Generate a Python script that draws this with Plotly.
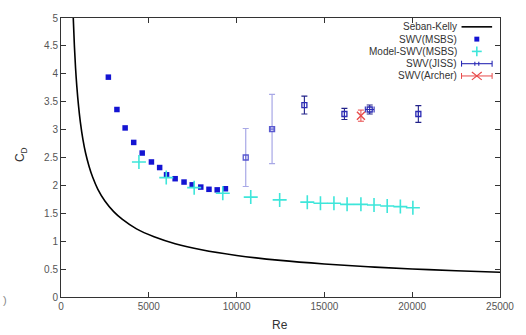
import plotly.graph_objects as go

# Seban-Kelly curve (smoothed)
sk_re = [650, 700, 760, 830, 900, 1000, 1100, 1250, 1400, 1600, 1800, 2100, 2500, 3000, 3500,
         4300, 5300, 6500, 8000, 10000, 12500, 15000, 17500, 20000, 22500, 25000]
sk_cd = [5.52, 4.99, 4.52, 4.10, 3.78, 3.42, 3.14, 2.82, 2.58, 2.34, 2.15, 1.93, 1.72, 1.53, 1.39,
         1.22, 1.08, 0.956, 0.847, 0.745, 0.656, 0.592, 0.542, 0.503, 0.471, 0.444]

# SWV(MSBS)
msbs_re = [2697, 3185, 3652, 4140, 4624, 5150, 5618, 6011, 6500, 7006, 7472, 7960, 8427, 8895, 9363]
msbs_cd = [3.94, 3.36, 3.03, 2.77, 2.58, 2.42, 2.32, 2.19, 2.12, 2.06, 2.01, 1.97, 1.93, 1.92, 1.94]

# Model-SWV(MSBS)
model_re = [4438, 5994, 7584, 9213, 10805, 12453, 14026, 14775, 15543, 16292, 17079, 17826, 18577, 19326, 20039]
model_cd = [2.42, 2.14, 1.96, 1.86, 1.79, 1.74, 1.70, 1.68, 1.68, 1.66, 1.66, 1.65, 1.63, 1.62, 1.60]

# SWV(JISS)
jiss_re = [10520, 12020, 13860, 16140, 17580, 20350]
jiss_cd = [2.50, 3.01, 3.44, 3.28, 3.36, 3.28]
jiss_ey = [0.52, 0.62, 0.16, 0.10, 0.08, 0.15]
jiss_ex = [0, 100, 0, 0, 250, 0]

# SWV(Archer)
arch_re = [17080]
arch_cd = [3.25]
arch_ey = [0.10]

x_ticks = [0, 5000, 10000, 15000, 20000, 25000]
y_ticks = [0, 0.5, 1, 1.5, 2, 2.5, 3, 3.5, 4, 4.5, 5]

W, H = 526, 335
L, R, T, B = 61, 20, 13, 38
PW, PH = W - L - R, H - T - B

def px(x):
    return (x - L) / PW

def py(y):
    return (H - B - y) / PH

NAVY = "#2a2ab4"
CYAN = "#3ee6da"
BLUE = "#1414d2"
RED = "#e84a4a"
FONT = "Liberation Sans, Arial"

fig = go.Figure()
fig.add_trace(go.Scatter(x=sk_re, y=sk_cd, mode="lines", line=dict(color="black", width=1.6, shape="spline"),
                         showlegend=False))
fig.add_trace(go.Scatter(x=msbs_re, y=msbs_cd, mode="markers",
                         marker=dict(symbol="square", size=5.5, color=BLUE), showlegend=False))
fig.add_trace(go.Scatter(x=model_re, y=model_cd, mode="markers",
                         marker=dict(symbol="cross-thin", size=10, line=dict(color=CYAN, width=1.6)),
                         showlegend=False))
# JISS: first two bars drawn paler (as in the picture)
pale = [0, 1]
dark = [2, 3, 4, 5]
fig.add_trace(go.Scatter(x=[jiss_re[i] for i in pale], y=[jiss_cd[i] for i in pale], mode="markers",
                         marker=dict(symbol="square-open", size=5, color="#5a5ad0", line=dict(width=1.3)),
                         error_y=dict(type="data", array=[jiss_ey[i] for i in pale], color="#a8a8e6",
                                      thickness=1.2, width=3),
                         error_x=dict(type="data", array=[jiss_ex[i] for i in pale], color="#7070d8",
                                      thickness=1.2, width=3),
                         showlegend=False))
fig.add_trace(go.Scatter(x=[jiss_re[i] for i in dark], y=[jiss_cd[i] for i in dark], mode="markers",
                         marker=dict(symbol="square-open", size=5, color=NAVY, line=dict(width=1.3)),
                         error_y=dict(type="data", array=[jiss_ey[i] for i in dark], color="#22228a",
                                      thickness=1.1, width=3),
                         error_x=dict(type="data", array=[jiss_ex[i] for i in dark], color=NAVY,
                                      thickness=1.1, width=3),
                         showlegend=False))
fig.add_trace(go.Scatter(x=arch_re, y=arch_cd, mode="markers",
                         marker=dict(symbol="x-thin", size=8, line=dict(color=RED, width=1.4)),
                         error_y=dict(type="data", array=arch_ey, color=RED, thickness=1, width=3),
                         showlegend=False))

# manual gnuplot-style legend (text right-aligned, sample on the right)
leg_names = ["Seban-Kelly", "SWV(MSBS)", "Model-SWV(MSBS)", "SWV(JISS)", "SWV(Archer)"]
leg_y = [22, 34.5, 47, 59.5, 72]
text_right = 464
s0, s1 = 467, 498
sc = (s0 + s1) / 2
annotations = []
shapes = []
for name, yy in zip(leg_names, leg_y):
    annotations.append(dict(text=name, x=px(text_right), y=py(yy), xref="paper", yref="paper",
                            xanchor="right", yanchor="middle", showarrow=False,
                            font=dict(family=FONT, size=10, color="#333333")))

def line(x0, y0, x1, y1, color, width=1.0):
    shapes.append(dict(type="line", xref="paper", yref="paper", x0=px(x0), y0=py(y0), x1=px(x1), y1=py(y1),
                       line=dict(color=color, width=width)))

# Seban-Kelly
line(s0, leg_y[0], s1, leg_y[0], "black", 1.6)
# MSBS square
shapes.append(dict(type="rect", xref="paper", yref="paper", x0=px(sc - 2.5), x1=px(sc + 2.5),
                   y0=py(leg_y[1] + 2.5), y1=py(leg_y[1] - 2.5), fillcolor=BLUE, line=dict(width=0)))
# Model cross
line(sc - 5, leg_y[2], sc + 5, leg_y[2], CYAN, 1.6)
line(sc, leg_y[2] - 5, sc, leg_y[2] + 5, CYAN, 1.6)
# JISS errorbar sample
line(s0, leg_y[3], s1, leg_y[3], NAVY, 1.1)
line(s0, leg_y[3] - 3, s0, leg_y[3] + 3, NAVY, 1.1)
line(s1, leg_y[3] - 3, s1, leg_y[3] + 3, NAVY, 1.1)
line(sc - 2, leg_y[3] - 2, sc - 2, leg_y[3] + 2, NAVY, 1.1)
line(sc + 2, leg_y[3] - 2, sc + 2, leg_y[3] + 2, NAVY, 1.1)
# Archer errorbar sample
line(s0, leg_y[4], s1, leg_y[4], RED, 1.0)
line(s0, leg_y[4] - 3, s0, leg_y[4] + 3, RED, 1.0)
line(s1, leg_y[4] - 3, s1, leg_y[4] + 3, RED, 1.0)
line(sc - 5, leg_y[4] - 4, sc + 5, leg_y[4] + 4, RED, 1.2)
line(sc - 5, leg_y[4] + 4, sc + 5, leg_y[4] - 4, RED, 1.2)

# axis titles
annotations.append(dict(text="Re", x=px(283), y=py(325), xref="paper", yref="paper",
                        xanchor="center", yanchor="middle", showarrow=False,
                        font=dict(family=FONT, size=12, color="#333333")))
annotations.append(dict(text="C<sub>D</sub>", x=px(20), y=py(152), xref="paper", yref="paper",
                        xanchor="center", yanchor="middle", showarrow=False, textangle=-90,
                        font=dict(family=FONT, size=12, color="#333333")))
annotations.append(dict(text=")", x=px(0), y=py(300), xref="paper", yref="paper",
                        xanchor="left", yanchor="middle", showarrow=False,
                        font=dict(family=FONT, size=11, color="#888888")))

axis_common = dict(showgrid=False, zeroline=False, showline=True, linecolor="#333333", linewidth=1,
                   mirror="allticks", ticks="inside", ticklen=5, tickcolor="#333333", tickwidth=1,
                   tickfont=dict(family=FONT, size=10, color="#555555"))

fig.update_layout(
    width=W, height=H,
    margin=dict(l=L, r=R, t=T, b=B),
    paper_bgcolor="white", plot_bgcolor="white",
    xaxis=dict(range=[0, 25000], tickvals=x_ticks, ticktext=[str(v) for v in x_ticks], **axis_common),
    yaxis=dict(range=[0, 5], tickvals=y_ticks, ticktext=[f"{v:g}" for v in y_ticks], **axis_common),
    annotations=annotations,
    shapes=shapes,
    showlegend=False,
)

fig.write_html("out.html")
